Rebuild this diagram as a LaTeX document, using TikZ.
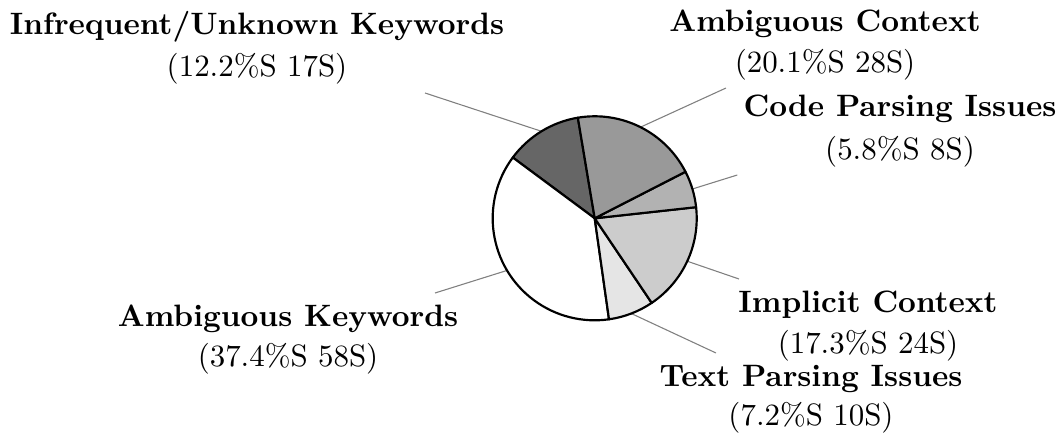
\documentclass[tikz,border=0pt]{standalone}
\begin{document}
\begin{tikzpicture}[x=0.3232pt,y=0.3232pt,
  ttl/.style={font=\bfseries, anchor=base, inner sep=0pt},
  val/.style={anchor=base, inner sep=0pt},
  lead/.style={draw=black!50, line width=0.35pt},
  slice/.style={draw=black, line width=0.7pt, line join=round}]
\useasboundingbox (0,0) rectangle (1062,432);
\def\R{32.97pt}
\coordinate (c) at (594.7,213.7);
% edge points at slice middles
\path (c) ++(121.46:\R) coordinate (e1);
\path (c) ++(63.32:\R) coordinate (e2);
\path (c) ++(16.70:\R) coordinate (e3);
\path (c) ++(-24.88:\R) coordinate (e4);
\path (c) ++(-68.98:\R) coordinate (e5);
\path (c) ++(210.74:\R) coordinate (e6);
% leader ends
\coordinate (p1) at (425,339);
\coordinate (p2) at (726,344);
\coordinate (p3) at (737.3,257);
\coordinate (p4) at (739,153);
\coordinate (p5) at (716,79);
\coordinate (p6) at (435,139);
\draw[lead] (e1) -- (p1);
\draw[lead] (e2) -- (p2);
\draw[lead] (e3) -- (p3);
\draw[lead] (e4) -- (p4);
\draw[lead] (e5) -- (p5);
\draw[lead] (e6) -- (p6);
% slices
\filldraw[slice, fill=black!60] (c) -- ++(99.5:\R) arc[start angle=99.5, end angle=143.42, radius=\R] -- cycle;
\filldraw[slice, fill=white] (c) -- ++(143.42:\R) arc[start angle=143.42, end angle=278.06, radius=\R] -- cycle;
\filldraw[slice, fill=black!10] (c) -- ++(278.06:\R) arc[start angle=278.06, end angle=303.98, radius=\R] -- cycle;
\filldraw[slice, fill=black!20] (c) -- ++(303.98:\R) arc[start angle=303.98, end angle=366.26, radius=\R] -- cycle;
\filldraw[slice, fill=black!30] (c) -- ++(366.26:\R) arc[start angle=366.26, end angle=387.14, radius=\R] -- cycle;
\filldraw[slice, fill=black!40] (c) -- ++(387.14:\R) arc[start angle=387.14, end angle=459.5, radius=\R] -- cycle;
% labels
\node[ttl] (t1) at (257,397) {Infrequent/Unknown Keywords};
\node[val] (v1) at (257,355) {(12.2\%S 17S)};
\node[ttl] (t2) at (825,400) {Ambiguous Context};
\node[val] (v2) at (825,359) {(20.1\%S 28S)};
\node[ttl] (t3) at (900,315) {Code Parsing Issues};
\node[val] (v3) at (900,273) {(5.8\%S 8S)};
\node[ttl] (t4) at (868,120) {Implicit Context};
\node[val] (v4) at (868,79) {(17.3\%S 24S)};
\node[ttl] (t5) at (811,46) {Text Parsing Issues};
\node[val] (v5) at (811,7) {(7.2\%S 10S)};
\node[ttl] (t6) at (288,106) {Ambiguous Keywords};
\node[val] (v6) at (288,66) {(37.4\%S 58S)};
\end{tikzpicture}
\end{document}
